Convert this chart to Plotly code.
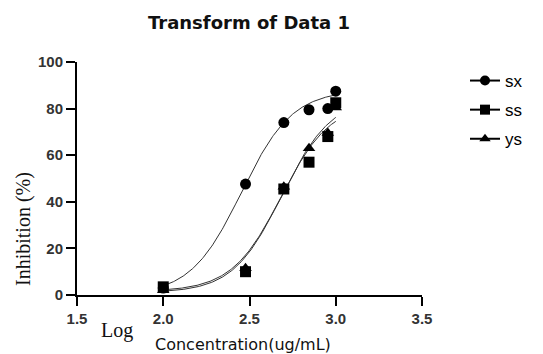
import numpy as np
import plotly.graph_objects as go

# ---- data (log concentration, % inhibition) ----
series_names = ["sx", "ss", "ys"]
log_conc = [2.0, 2.477, 2.699, 2.845, 2.954, 3.0]
sx_values = [3.0, 47.6, 74.0, 79.5, 80.0, 87.5]
ss_values = [3.5, 10.0, 45.5, 57.0, 68.0, 82.5]
ys_values = [2.0, 11.5, 46.5, 63.0, 69.5, 80.5]

# ---- 4-parameter logistic fit parameters ----
fit_bottom = [0.0, 1.5, 1.0]
fit_top = [88.0, 85.0, 82.0]
fit_logec50 = [2.453, 2.690, 2.680]
fit_hill = [2.94, 3.0, 3.1]
fit_range = [2.0, 3.0]

x_ticks = [1.5, 2.0, 2.5, 3.0, 3.5]
y_ticks = [0, 20, 40, 60, 80, 100]

symbols = ["circle", "square", "triangle-up"]
marker_sizes = [11, 11, 11]
values = [sx_values, ss_values, ys_values]

W, H = 543, 354
pl, pr, pt, pb = 77, 422, 62, 295


def px(x):
    return (x - pl) / (pr - pl)


def py(y):
    return (pb - y) / (pb - pt)


fig = go.Figure()
xs = np.linspace(fit_range[0], fit_range[1], 200)
for i, name in enumerate(series_names):
    b, t, c, h = fit_bottom[i], fit_top[i], fit_logec50[i], fit_hill[i]
    ys = b + (t - b) / (1 + 10 ** ((c - xs) * h))
    fig.add_trace(go.Scatter(x=xs, y=ys, mode="lines",
                             line=dict(color="#333333", width=1),
                             showlegend=False, hoverinfo="skip"))
for i, name in enumerate(series_names):
    fig.add_trace(go.Scatter(x=log_conc, y=values[i], mode="markers",
                             marker=dict(symbol=symbols[i], size=marker_sizes[i], color="black"),
                             showlegend=False, cliponaxis=False))
for i, name in enumerate(series_names):
    fig.add_trace(go.Scatter(x=[None], y=[None], mode="lines+markers", name=name,
                             legendgroup=name,
                             line=dict(color="black", width=2),
                             marker=dict(symbol=symbols[i], size=10, color="black")))

fig.update_layout(
    width=W, height=H,
    margin=dict(l=pl, r=W - pr, t=pt, b=H - pb),
    paper_bgcolor="white", plot_bgcolor="white",
    font=dict(family="Arial, Liberation Sans", color="#222222"),
    title=dict(text="<b>Transform of Data 1</b>", x=249 / W, xref="container", xanchor="center",
               y=1 - 23 / H, yref="container", yanchor="middle",
               font=dict(family="DejaVu Sans", size=18, color="#111111")),
    showlegend=True,
    legend=dict(x=px(465), y=py(63), xanchor="left", yanchor="top",
                font=dict(family="Arial, Liberation Sans", size=17, color="black"),
                bgcolor="rgba(0,0,0,0)", tracegroupgap=4),
    xaxis=dict(range=[1.5, 3.5], tickvals=x_ticks, ticktext=[f"<b>{v:.1f}</b>" for v in x_ticks],
               showgrid=False, zeroline=False, showline=True, linecolor="black", linewidth=2,
               ticks="outside", ticklen=9, tickwidth=2, tickcolor="black",
               tickfont=dict(size=15, color="#333333")),
    yaxis=dict(range=[0, 100], tickvals=y_ticks, ticktext=[f"<b>{v}</b>" for v in y_ticks],
               showgrid=False, zeroline=False, showline=True, linecolor="black", linewidth=2,
               ticks="outside", ticklen=9, tickwidth=2, tickcolor="black",
               tickfont=dict(size=15, color="#333333")),
    annotations=[
        dict(text="Inhibition (%)", textangle=-90, x=px(23), y=py(229), xref="paper", yref="paper",
             xanchor="center", yanchor="middle", showarrow=False,
             font=dict(family="Liberation Serif, Times New Roman", size=20, color="#111111")),
        dict(text="Log", x=px(117), y=py(330), xref="paper", yref="paper",
             xanchor="center", yanchor="middle", showarrow=False,
             font=dict(family="Liberation Serif, Times New Roman", size=20, color="#111111")),
        dict(text="Concentration(ug/mL)", x=px(243), y=py(344), xref="paper", yref="paper",
             xanchor="center", yanchor="middle", showarrow=False,
             font=dict(family="DejaVu Sans", size=16, color="#111111")),
    ],
)

fig.write_html("out.html")
